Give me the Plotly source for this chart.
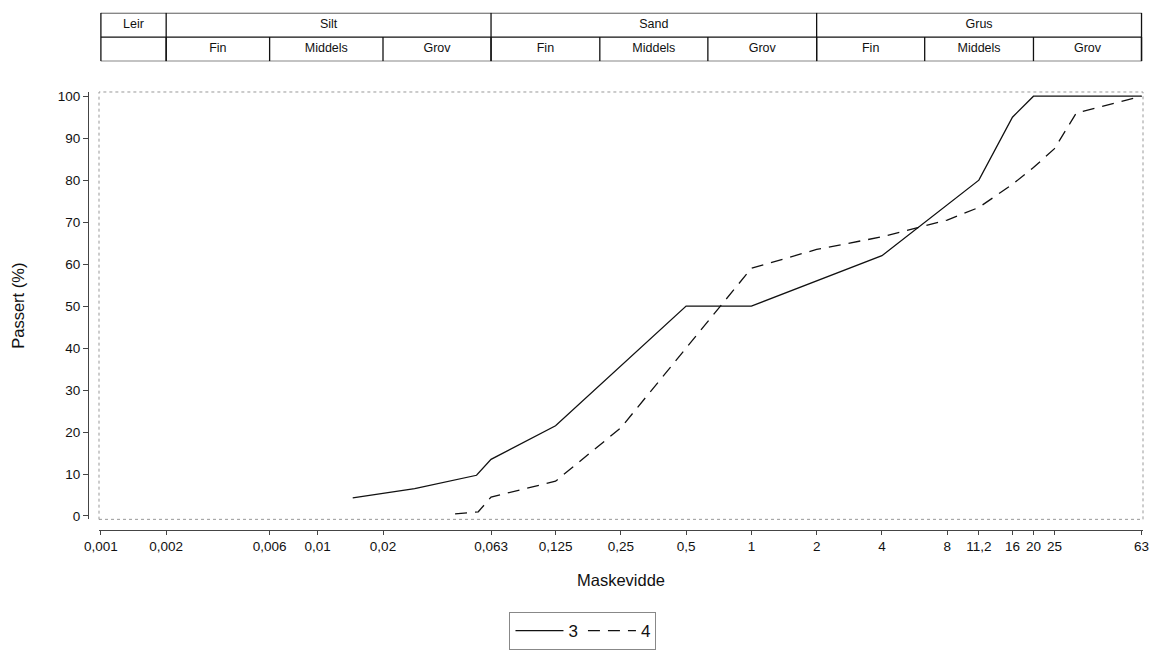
import math
import plotly.graph_objects as go

# ---- data ----
sieve_3 = [0.0145, 0.028, 0.054, 0.063, 0.125, 0.5, 1, 4, 11.2, 16, 20, 63]
pass_3 = [4.3, 6.5, 9.7, 13.5, 21.5, 50, 50, 62, 80, 95, 100, 100]

sieve_4 = [0.043, 0.055, 0.063, 0.125, 0.25, 0.5, 1, 2, 4, 8, 11.2, 16, 20, 25, 31.5, 63]
pass_4 = [0.5, 1.0, 4.5, 8.3, 21, 40, 59, 63.5, 66.5, 70.5, 73.5, 79, 83, 87.5, 96, 100]

tick_vals = [0.001, 0.002, 0.006, 0.01, 0.02, 0.063, 0.125, 0.25, 0.5, 1, 2, 4, 8, 11.2, 16, 20, 25, 63]
tick_text = ["0,001", "0,002", "0,006", "0,01", "0,02", "0,063", "0,125", "0,25", "0,5", "1", "2", "4",
             "8", "11,2", "16", "20", "25", "63"]

# classification table (header)
main_bounds = [0.001, 0.002, 0.063, 2, 63]
main_labels = ["Leir", "Silt", "Sand", "Grus"]
sub_bounds = [0.002, 0.006, 0.02, 0.063, 0.2, 0.63, 2, 6.3, 20, 63]
sub_labels = ["Fin", "Middels", "Grov", "Fin", "Middels", "Grov", "Fin", "Middels", "Grov"]

W, H = 1159, 650
FONT = "Liberation Sans, Arial, sans-serif"

x_dom = [99 / W, 1143 / W]
y_dom = [1 - 525 / H, 1 - 93 / H]
tab_dom = [1 - 62 / H, 1 - 13 / H]

fig = go.Figure()

fig.add_trace(go.Scatter(x=sieve_3, y=pass_3, mode="lines", name="3",
                         line=dict(color="#111", width=1.3)))
fig.add_trace(go.Scatter(x=sieve_4, y=pass_4, mode="lines", name="4",
                         line=dict(color="#111", width=1.3, dash="12px,8px")))

# header table lines
tab_x, tab_y = [], []
for yy in (0, 1, 2):
    tab_x += [main_bounds[0], main_bounds[-1], None]
    tab_y += [yy, yy, None]
for b in main_bounds:
    tab_x += [b, b, None]
    tab_y += [0, 2, None]
for b in sub_bounds:
    tab_x += [b, b, None]
    tab_y += [0, 1, None]
fig.add_trace(go.Scatter(x=tab_x, y=tab_y, xaxis="x", yaxis="y2", mode="lines",
                         line=dict(color="#111", width=1.3), showlegend=False, hoverinfo="skip"))

main_cx = [math.sqrt(main_bounds[i] * main_bounds[i + 1]) for i in range(len(main_labels))]
sub_cx = [math.sqrt(sub_bounds[i] * sub_bounds[i + 1]) for i in range(len(sub_labels))]
fig.add_trace(go.Scatter(x=main_cx + sub_cx,
                         y=[1.5] * len(main_cx) + [0.5] * len(sub_cx),
                         xaxis="x", yaxis="y2", mode="text",
                         text=main_labels + sub_labels,
                         textfont=dict(family=FONT, size=12.5, color="#111"),
                         showlegend=False, hoverinfo="skip"))

fig.update_layout(
    width=W, height=H,
    margin=dict(l=0, r=0, t=0, b=0),
    paper_bgcolor="white", plot_bgcolor="white",
    font=dict(family=FONT, color="#111"),
    xaxis=dict(type="log", domain=x_dom, range=[math.log10(0.00098), math.log10(64)],
               anchor="free", position=1 - 536 / H,
               tickvals=tick_vals, ticktext=tick_text, tickfont=dict(size=13.5),
               ticks="outside", ticklen=4, tickcolor="#444",
               showline=True, linecolor="#444", linewidth=1,
               showgrid=False, zeroline=False, automargin=False,
               title=dict(text="Maskevidde", font=dict(size=16.5), standoff=21)),
    yaxis=dict(domain=y_dom, range=[-0.8, 101], anchor="free", position=88 / W,
               tickvals=list(range(0, 101, 10)), tickfont=dict(size=13.5),
               ticks="outside", ticklen=5, tickcolor="#444",
               showline=True, linecolor="#444", linewidth=1,
               showgrid=False, zeroline=False, automargin=False,
               title=dict(text="Passert (%)", font=dict(size=16.5), standoff=27)),
    yaxis2=dict(domain=tab_dom, range=[0, 2], anchor="free", position=0,
                visible=False, showgrid=False, zeroline=False),
    legend=dict(orientation="h", x=0.503, xanchor="center", y=1 - 619 / H, yanchor="top",
                bordercolor="#888", borderwidth=1, font=dict(size=17), itemwidth=48,
                traceorder="normal"),
    shapes=[dict(type="rect", xref="x domain", yref="y domain", x0=0, x1=1, y0=0, y1=1,
                 line=dict(color="#999", width=1, dash="dot"))],
)

fig.write_html("out.html", config={"displayModeBar": False},
               post_script="document.body.style.margin='0';")
